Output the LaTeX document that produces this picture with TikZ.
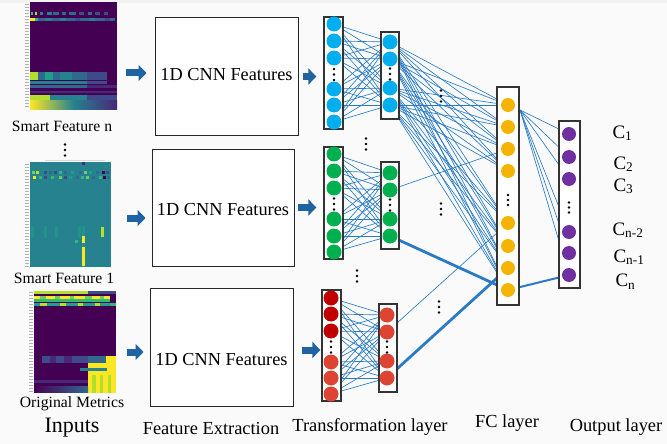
\documentclass[tikz,border=0pt]{standalone}
\usepackage{fontspec}
\setmainfont{Liberation Serif}
\usetikzlibrary{positioning, calc, arrows.meta, backgrounds}

\definecolor{bgcol}{HTML}{FAFAFA}
\definecolor{wireblue}{HTML}{2A7BC4}
\definecolor{arrowblue}{HTML}{1F63A3}
\definecolor{nblue}{HTML}{00AEEF}
\definecolor{ngreen}{HTML}{00B04F}
\definecolor{nred}{HTML}{C00000}
\definecolor{nredl}{HTML}{DE4433}
\definecolor{nyellow}{HTML}{F5B400}
\definecolor{npurple}{HTML}{7030A0}
% viridis steps
\definecolor{vA}{HTML}{440154}
\definecolor{vB}{HTML}{482878}
\definecolor{vC}{HTML}{3E4A89}
\definecolor{vD}{HTML}{31688E}
\definecolor{vE}{HTML}{26828E}
\definecolor{vF}{HTML}{1F9E89}
\definecolor{vG}{HTML}{35B779}
\definecolor{vH}{HTML}{6DCD59}
\definecolor{vI}{HTML}{B4DE2C}
\definecolor{vJ}{HTML}{FDE725}

\newcommand{\vdotsat}[3][5.5]{\foreach \dy in {-#1,0,#1} \fill (#2,#3+\dy) circle (1.3pt);}

\begin{document}
\begin{tikzpicture}[x=1pt, y=-1pt,
    colbox/.style={draw=black!80, line width=1.3pt, fill=white, inner sep=0pt},
    neuron/.style={circle, inner sep=0pt, minimum size=15pt},
    fcneuron/.style={circle, inner sep=0pt, minimum size=14pt},
    cnnbox/.style={draw=black!85, line width=1pt, fill=white, inner sep=0pt,
        minimum width=143pt, minimum height=117pt},
    cnntxt/.style={font=\fontsize{18.3}{20}\selectfont},
    wire/.style={wireblue, line width=0.65pt},
    thickwire/.style={wireblue, line width=2.8pt},
    blockarrow/.style={arrowblue, line width=7pt, -{Triangle[length=8pt, width=16pt]}},
    hmframe/.style={inner sep=0pt},
    tick/.style={black!30, line width=0.8pt},
    smalllbl/.style={font=\fontsize{15.7}{18}\selectfont},
    biglbl/.style={font=\fontsize{18.4}{21}\selectfont},
    clbl/.style={anchor=base west, font=\fontsize{19}{21}\selectfont}]
    \useasboundingbox (0,0) rectangle (667,444);

    % heatmaps
    \node[hmframe, minimum width=87pt, minimum height=107pt] (hmN) at (73.5,55.5) {};
    \fill[vA] (30,2) rectangle (117,109);
    \foreach \a/\b/\c in {31/33/vG, 35/37/vI, 40/43/vE, 47/52/vE, 53/59/vD, 62/66/vD,
        69/76/vD, 79/84/vC, 88/92/vD, 95/100/vC, 104/108/vC}
        \fill[\c] (\a,12) rectangle (\b,15);
    \fill[vD] (38,18) rectangle (115,21);
    \fill[vJ] (30,18) rectangle (35,21);
    \fill[vG] (35,18) rectangle (38,21);
    \foreach \a/\b/\c in {45/52/vE, 60/66/vE, 75/80/vC, 90/95/vE, 105/110/vC}
        \fill[\c] (\a,18) rectangle (\b,21);
    \foreach \a/\b/\c in {30/38/vI, 38/45/vD, 45/53/vF, 53/60/vD, 60/72/vE, 72/87/vD, 87/107/vC}
        \fill[\c] (\a,72) rectangle (\b,80);
    \fill[vE] (30,81) rectangle (87,84);
    \fill[vC] (87,81) rectangle (107,84);
    \fill[vD] (30,85) rectangle (87,88);
    \fill[vB] (87,85) rectangle (117,88);
    \fill[vB] (30,91) rectangle (117,93);
    \fill[vE] (30,95) rectangle (87,100);
    \fill[vI] (30,95) rectangle (50,100);
    \fill[vC] (87,95) rectangle (117,100);
    \shade[left color=vJ, right color=vB, middle color=vE] (30,100) rectangle (117,109);
    \foreach \y in {4,7,...,108} \draw[tick] (25,\y) -- (29,\y);

    \node[hmframe, minimum width=81pt, minimum height=105pt] (hm1) at (70.5,214.5) {};
    \fill[vE] (30,162) rectangle (111,267);
    \fill[vB] (82,162) rectangle (85,165);
    \foreach \x/\c in {33/vH, 37/vI, 45/vC, 50/vD, 55/vC, 60/vG, 65/vD, 72/vF, 80/vD,
        85/vH, 90/vF, 97/vD, 103/vA, 107/vC}
        \fill[\c] (\x-1.5,171) rectangle (\x+1.5,174);
    \foreach \x/\c in {34/vJ, 40/vG, 45/vC, 52/vG, 60/vH, 65/vC, 70/vF, 77/vD, 82/vG,
        87/vH, 93/vD, 100/vG, 104/vA, 108/vD}
        \fill[\c] (\x-1.5,176) rectangle (\x+1.5,179);
    \foreach \a in {31,44,55,78}
        \fill[vF!60!vE] (\a,226) rectangle (\a+2.5,238);
    \fill[vF!60!vE] (82,226) rectangle (85,267);
    \fill[vI] (101,227) rectangle (104,237);
    \fill[vJ] (82,236) rectangle (85,243);
    \fill[vJ] (82,247) rectangle (85,266);
    \fill[vG] (75,240) rectangle (78,243);
    \foreach \y in {164,167,...,266} \draw[tick] (25,\y) -- (29,\y);
    \draw[tick, black!15] (45,160) -- (105,160);

    \node[hmframe, minimum width=82pt, minimum height=102pt] (hmO) at (75,342) {};
    \fill[vA] (34,291) rectangle (116,393);
    \fill[vI] (34,291) rectangle (88,294);
    \fill[vC] (88,291) rectangle (116,294);
    \fill[vJ] (34,296) rectangle (110,299);
    \foreach \a/\b in {40/46, 55/60, 70/74, 85/92, 100/104}
        \fill[vH] (\a,296) rectangle (\b,299);
    \fill[vG] (34,299) rectangle (110,302);
    \foreach \a/\b/\c in {34/40/vF, 40/47/vI, 47/60/vF, 60/66/vI, 66/78/vF, 78/83/vI,
        83/95/vF, 95/100/vI, 100/110/vF, 110/116/vG}
        \fill[\c] (\a,303) rectangle (\b,306);
    \foreach \a/\b/\c in {42/50/vC, 50/56/vB, 56/64/vC, 64/72/vB, 72/80/vC, 80/88/vC,
        88/106/vD, 106/116/vJ}
        \fill[\c] (\a,356) rectangle (\b,363);
    \fill[vJ] (88,363) rectangle (116,393);
    \foreach \a/\b in {92/96, 100/103, 108/111}
        \fill[vI] (\a,375) rectangle (\b,393);
    \fill[vE] (80,368) rectangle (107,371);
    \fill[vB] (34,380) rectangle (88,383);
    \shade[left color=vA, right color=vD] (34,386) rectangle (88,392);
    \foreach \y in {292,295,...,392} \draw[tick] (29,\y) -- (33,\y);

    \node[smalllbl] (lblN) at (62,126) {Smart Feature n};
    \vdotsat{65}{150}
    \node[smalllbl] (lbl1) at (64,278) {Smart Feature 1};
    \node[smalllbl] (lblO) at (72,404) {Original Metrics};

    % feature extraction
    \node[cnnbox, label={[cnntxt, yshift=1.5pt]center:1D CNN Features}] (cnnN) at (226.5,76.5) {};
    \node[cnnbox, minimum width=142pt, label={[cnntxt, yshift=-2.5pt]center:1D CNN Features}] (cnn1) at (223,207.5) {};
    \node[cnnbox, minimum height=118pt, label={[cnntxt, yshift=-13pt]center:1D CNN Features}] (cnnO) at (221.5,347) {};

    % transformation layer
    \node[colbox, minimum width=19pt, minimum height=112pt] (tb1) at (333.5,73) {};
    \node[colbox, minimum width=18pt, minimum height=87pt] (tb2) at (390,75.5) {};
    \node[colbox, minimum width=19pt, minimum height=112pt] (tg1) at (333.5,203) {};
    \node[colbox, minimum width=18pt, minimum height=87pt] (tg2) at (390,205.5) {};
    \node[colbox, minimum width=19pt, minimum height=111pt] (tr1) at (331.5,345.5) {};
    \node[colbox, minimum width=18pt, minimum height=88pt] (tr2) at (388,348) {};
    \foreach \y [count=\i] in {24,41,58,89,105,122}
        \node[neuron, fill=nblue] (b1-\i) at (334,\y) {};
    \foreach \y [count=\i] in {42,59,88,105}
        \node[neuron, fill=nblue] (b2-\i) at (390,\y) {};
    \foreach \y [count=\i] in {154,171,188,219,236,252}
        \node[neuron, fill=ngreen] (g1-\i) at (334,\y) {};
    \foreach \y [count=\i] in {173,190,219,236}
        \node[neuron, fill=ngreen] (g2-\i) at (390,\y) {};
    \foreach \y/\c [count=\i] in {298/nred,314/nred,331/nred,362/nredl,378/nredl,394/nredl}
        \node[neuron, fill=\c] (r1-\i) at (331,\y) {};
    \foreach \y [count=\i] in {315,332,361,378}
        \node[neuron, fill=nredl] (r2-\i) at (387,\y) {};
    \vdotsat{334}{74.5} \vdotsat{390}{74}
    \vdotsat{334}{204} \vdotsat{390}{205}
    \vdotsat{331}{347} \vdotsat{387}{347}
    \vdotsat{366}{144} \vdotsat{357}{276}

    % FC and output layers
    \node[colbox, minimum width=22pt, minimum height=218pt] (fc) at (508,196) {};
    \foreach \y [count=\i] in {105,127,149,171,223,246,268,290}
        \node[fcneuron, fill=nyellow] (fc-\i) at (508,\y) {};
    \node[colbox, minimum width=21pt, minimum height=167pt] (out) at (569.5,204.5) {};
    \foreach \y [count=\i] in {134,157,179,232,253,275}
        \node[fcneuron, fill=npurple] (out-\i) at (569,\y) {};
    \vdotsat[5]{508}{200} \vdotsat[5]{569}{207.5}
    \vdotsat{441}{96} \vdotsat{441}{209} \vdotsat{439}{307}
    \coordinate (fcsrc) at (520,110);

    \node[clbl] (c1) at (609,138) {C\textsubscript{1}};
    \node[clbl] (c2) at (610,169) {C\textsubscript{2}};
    \node[clbl] (c3) at (610,191) {C\textsubscript{3}};
    \node[clbl] (c4) at (609,235) {C\textsubscript{n-2}};
    \node[clbl] (c5) at (610,262) {C\textsubscript{n-1}};
    \node[clbl] (c6) at (612,286.5) {C\textsubscript{n}};

    % arrows
    \draw[blockarrow, shorten <=9pt, shorten >=8pt] ($(cnnN.west -| hmN.east)+(0,-3.5)$) -- ($(cnnN.west)+(0,-3.5)$);
    \draw[blockarrow, shorten <=16pt, shorten >=6pt] ($(cnn1.west -| hm1.east)+(0,10.5)$) -- ($(cnn1.west)+(0,10.5)$);
    \draw[blockarrow, shorten <=11pt, shorten >=6pt] ($(cnnO.west -| hmO.east)+(0,5)$) -- ($(cnnO.west)+(0,5)$);
    \draw[blockarrow, shorten <=4pt, shorten >=7pt] (cnnN.east) -- (cnnN.east -| tb1.west);
    \draw[blockarrow, shorten <=3pt, shorten >=7pt] (cnn1.east) -- (cnn1.east -| tg1.west);
    \draw[blockarrow, shorten <=8pt, shorten >=1pt] ($(cnnO.east)+(0,3)$) -- ($(cnnO.east -| tr1.west)+(0,3)$);

    % bottom captions
    \node[font=\fontsize{22}{24}\selectfont] (inputs) at (72,428) {Inputs};
    \node[biglbl] (fe) at (211,428) {Feature Extraction};
    \node[biglbl] (tl) at (370,427) {Transformation layer};
    \node[biglbl] (fcl) at (507,423) {FC layer};
    \node[biglbl] (ol) at (616,427) {Output layer};

    \begin{pgfonlayer}{background}
        \fill[bgcol] (0,0) rectangle (667,444);
        \fill[black!5] (0,0) rectangle (667,3);
        \foreach \p in {b,g,r}
            \foreach \i in {1,...,6}
                \foreach \j in {1,...,4}
                    \draw[wire] (\p1-\i) -- (\p2-\j);
        \foreach \i in {1,...,4}
            \foreach \j in {1,...,8}
                \draw[wire] (b2-\i) -- (fc-\j);
        \draw[wire] (g2-2) -- (fc-3);
        \draw[wire] (r2-2) -- (fc-5);
        \draw[thickwire] (g2-4) -- (fc-8);
        \draw[thickwire] (r2-4) -- (fc-7);
        \foreach \j in {1,...,6}
            \draw[wire] (fcsrc) -- (out-\j);
        \draw[wireblue, line width=2pt] (fc-8) -- (out-6);
    \end{pgfonlayer}
\end{tikzpicture}
\end{document}
